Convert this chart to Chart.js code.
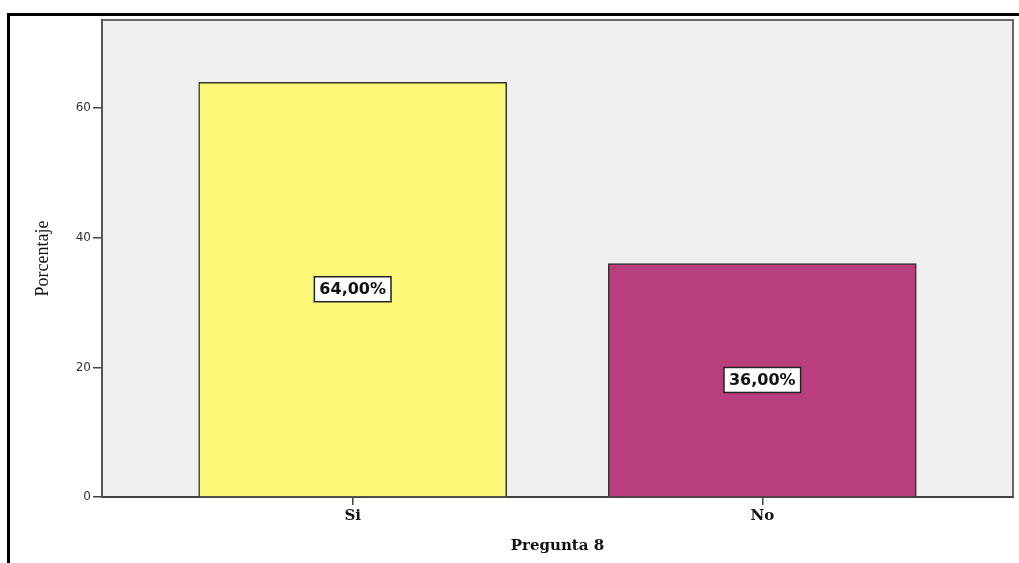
<!DOCTYPE html>
<html lang="es">
<head>
  <meta charset="UTF-8">
  <title>Pregunta 8</title>
  <style>
    html, body { margin: 0; padding: 0; background: #fff; }
    #wrap { position: relative; width: 1019px; height: 563px; overflow: hidden; }
    #grafico { position: absolute; left: 0; top: 0; }
    #marco { position: absolute; left: 7px; top: 13px; right: -10px; bottom: -10px;
             border-left: 3px solid #000; border-top: 3px solid #000; pointer-events: none; }
  </style>
</head>
<body>
  <div id="wrap">
    <canvas id="grafico" width="1019" height="563"></canvas>
    <div id="marco"></div>
  </div>
  <script src="https://cdn.jsdelivr.net/npm/chart.js"></script>
  <script>
    // datos
    const categorias = ['Si', 'No'];
    const porcentajes = [64, 36];
    const colores = ['#fbf877', '#b93f7c'];
    const ticksY = [0, 20, 40, 60];

    // fondo gris y marco del área del gráfico
    const fondoArea = {
      id: 'fondoArea',
      beforeDraw(chart) {
        const { ctx, chartArea: a } = chart;
        ctx.save();
        ctx.fillStyle = '#efefef';
        ctx.fillRect(a.left, a.top, a.right - a.left, a.bottom - a.top);
        ctx.strokeStyle = '#666';
        ctx.lineWidth = 2;
        ctx.strokeRect(a.left, a.top, a.right - a.left, a.bottom - a.top);
        ctx.restore();
      }
    };

    // etiquetas "64,00%" en el centro de cada barra
    const etiquetas = {
      id: 'etiquetas',
      afterDatasetsDraw(chart) {
        const { ctx } = chart;
        const meta = chart.getDatasetMeta(0);
        ctx.save();
        ctx.font = 'bold 16px "DejaVu Sans", sans-serif';
        ctx.textAlign = 'center';
        ctx.textBaseline = 'middle';
        meta.data.forEach((bar, i) => {
          const txt = porcentajes[i].toFixed(2).replace('.', ',') + '%';
          const cx = bar.x;
          const cy = (bar.y + bar.base) / 2;
          const w = ctx.measureText(txt).width + 10;
          const h = 25;
          ctx.fillStyle = '#fff';
          ctx.fillRect(cx - w / 2, cy - h / 2, w, h);
          ctx.strokeStyle = '#222';
          ctx.lineWidth = 1.5;
          ctx.strokeRect(cx - w / 2, cy - h / 2, w, h);
          ctx.fillStyle = '#111';
          ctx.fillText(txt, cx, cy + 1);
        });
        ctx.restore();
      }
    };

    new Chart(document.getElementById('grafico'), {
      type: 'bar',
      data: {
        datasets: [{
          data: categorias.map((c, i) => ({ x: i, y: porcentajes[i] })),
          backgroundColor: colores,
          borderColor: '#333',
          borderWidth: 1.5,
          barThickness: 308
        }]
      },
      options: {
        responsive: false,
        animation: false,
        layout: { padding: { left: 0, top: 20, right: 6, bottom: 0 } },
        plugins: { legend: { display: false }, tooltip: { enabled: false } },
        scales: {
          x: {
            type: 'linear',
            offset: false,
            min: -0.612,
            max: 1.612,
            afterBuildTicks: s => { s.ticks = categorias.map((c, i) => ({ value: i })); },
            afterFit: s => { s.height = 66; },
            ticks: {
              callback: v => categorias[v] ?? '',
              color: '#111',
              font: { family: '"DejaVu Serif", serif', size: 15, weight: 'bold' },
              padding: 2,
              maxRotation: 0
            },
            grid: { offset: false, drawOnChartArea: false, drawTicks: true, tickLength: 8, color: '#444', lineWidth: 1.5 },
            border: { color: '#444', width: 2 },
            title: {
              display: true,
              text: 'Pregunta 8',
              color: '#111',
              font: { family: '"DejaVu Serif", serif', size: 15, weight: 'bold' },
              padding: { top: 0, bottom: 8 }
            }
          },
          y: {
            min: 0,
            max: 73.6,
            afterBuildTicks: s => { s.ticks = ticksY.map(v => ({ value: v })); },
            afterFit: s => { s.width = 102; },
            ticks: {
              color: '#333',
              font: { family: '"DejaVu Sans", sans-serif', size: 12 },
              padding: 2
            },
            grid: { drawOnChartArea: false, drawTicks: true, tickLength: 9, color: '#444', lineWidth: 1.5 },
            border: { color: '#555', width: 2 },
            title: {
              display: true,
              text: 'Porcentaje',
              color: '#111',
              font: { family: '"Liberation Serif", serif', size: 18 },
              padding: { top: 32, bottom: 0 }
            }
          }
        }
      },
      plugins: [fondoArea, etiquetas]
    });
  </script>
</body>
</html>
